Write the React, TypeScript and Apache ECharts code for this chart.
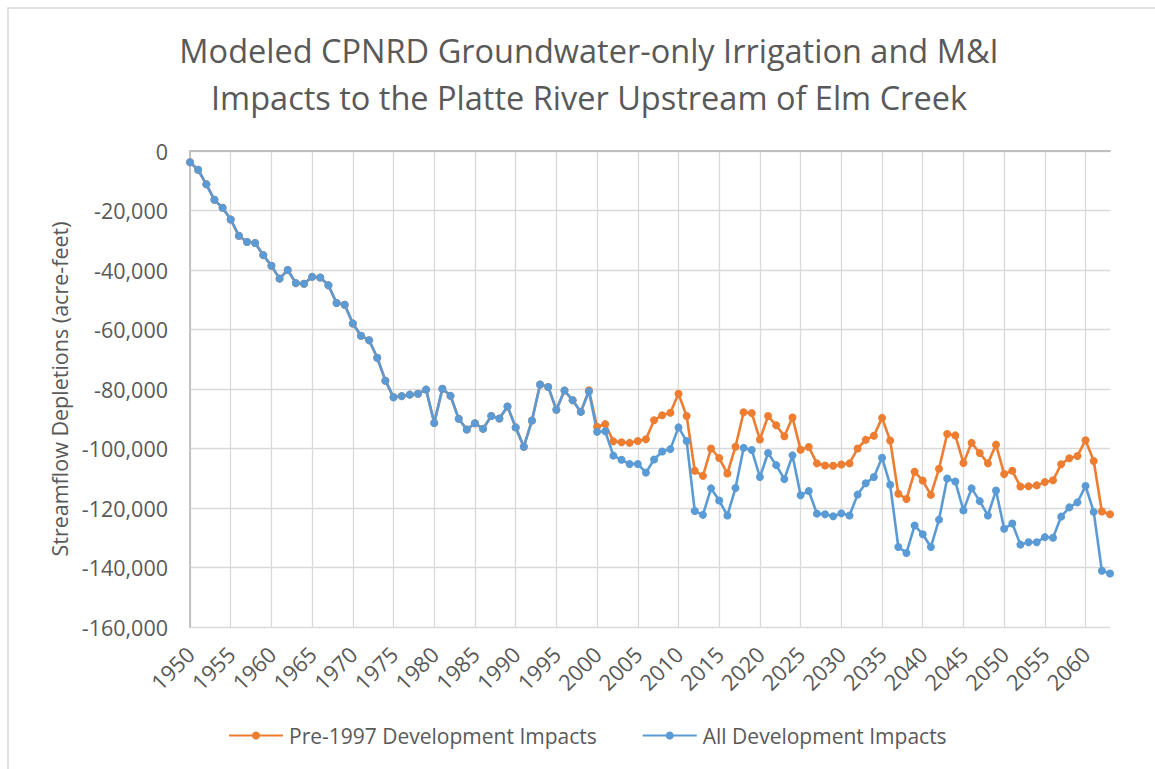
import React, { useEffect, useRef } from "react";
import * as echarts from "echarts";

const startYear = 1950;
const endYear = 2063;
const years: string[] = [];
for (let y = startYear; y <= endYear; y++) years.push(String(y));

// 1950–1998: both series coincide
const sharedEarly = [
  -3800, -6300, -11200, -16400, -19100, -23000, -28500, -30600, -30900, -35000,
  -38600, -42900, -40000, -44400, -44600, -42300, -42500, -45100, -51100, -51700,
  -58000, -62100, -63600, -69500, -77200, -82800, -82400, -81900, -81600, -80200,
  -91400, -79900, -82300, -90000, -93600, -91500, -93400, -89100, -89900, -85900,
  -92900, -99400, -90600, -78500, -79300, -87000, -80500, -83800, -87700,
];

// 1999–2063
const preDevLate = [
  -80400,
  -92700, -91800, -97600, -97900, -98100, -97500, -96900, -90500, -88800, -88000,
  -81600, -89100, -107500, -109200, -100000, -103200, -108400, -99400, -87800, -88100,
  -97000, -89100, -92200, -95900, -89600, -100400, -99500, -105000, -105700, -105800,
  -105400, -105000, -100000, -97100, -95700, -89700, -97300, -115200, -117000, -107800,
  -110800, -115600, -106800, -95100, -95600, -104900, -98100, -101500, -105000, -98700,
  -108600, -107500, -112800, -112700, -112400, -111300, -110700, -105300, -103300, -102500,
  -97200, -104200, -121200, -122100,
];

const allDevLate = [
  -80800,
  -94400, -94200, -102400, -103800, -105200, -105200, -108100, -103700, -101000, -100200,
  -92900, -97500, -121000, -122300, -113400, -117500, -122500, -113300, -99800, -100500,
  -109600, -101500, -105600, -110300, -102300, -115700, -114300, -121900, -122100, -122800,
  -121800, -122500, -115500, -111700, -109600, -103100, -112200, -133100, -135100, -125900,
  -128800, -133100, -123900, -110100, -111100, -120800, -113400, -117700, -122500, -114100,
  -127000, -125200, -132300, -131500, -131500, -129800, -130000, -122900, -119800, -118100,
  -112600, -121300, -141100, -142000,
];

const preDev = [...sharedEarly, ...preDevLate];
const allDev = [...sharedEarly, ...allDevLate];

const seriesNames = ["Pre-1997 Development Impacts", "All Development Impacts"];
const titleText =
  "Modeled CPNRD Groundwater-only Irrigation and M&I\nImpacts to the Platte River Upstream of Elm Creek";
const yAxisTitle = "Streamflow Depletions (acre-feet)";

const FONT = "'Open Sans', sans-serif";
const TXT = "#595959";

export default function App() {
  const ref = useRef<HTMLDivElement>(null);
  useEffect(() => {
    if (!ref.current) return;
    const chart = echarts.init(ref.current, null, { renderer: "svg" });
    chart.setOption({
      animation: false,
      backgroundColor: "#ffffff",
      title: {
        text: titleText,
        left: 584,
        textAlign: "center",
        top: 22,
        textStyle: {
          fontFamily: FONT,
          fontSize: 32.5,
          fontWeight: "normal",
          color: TXT,
          lineHeight: 47,
        },
      },
      legend: {
        bottom: 18,
        left: 223,
        itemGap: 45,
        itemWidth: 54,
        itemHeight: 10,
        textStyle: { fontFamily: FONT, fontSize: 21, color: TXT, padding: [0, 0, 0, 1] },
        data: seriesNames,
      },
      grid: { left: 190, right: 45, top: 151, bottom: 142, containLabel: false },
      xAxis: [
        {
          type: "category",
          data: years,
          boundaryGap: false,
          position: "bottom",
          axisLine: { show: false },
          axisTick: { show: false },
          axisLabel: {
            interval: 4,
            rotate: 45,
            margin: 23,
            fontFamily: FONT,
            fontSize: 22,
            color: TXT,
          },
          splitLine: {
            show: true,
            interval: 4,
            lineStyle: { color: "#d9d9d9", width: 1.3 },
          },
        },
        {
          type: "category",
          data: years,
          boundaryGap: false,
          position: "top",
          axisLine: { show: true, lineStyle: { color: "#bfbfbf", width: 1.8 } },
          axisTick: { show: false },
          axisLabel: { show: false },
          splitLine: { show: false },
        },
      ],
      yAxis: {
        type: "value",
        min: -160000,
        max: 0,
        interval: 20000,
        name: yAxisTitle,
        nameLocation: "middle",
        nameRotate: 90,
        nameGap: 117,
        nameTextStyle: { fontFamily: FONT, fontSize: 21.5, color: TXT },
        axisLine: { show: true, lineStyle: { color: "#bfbfbf", width: 1.8 } },
        axisTick: { show: false },
        axisLabel: {
          margin: 22,
          fontFamily: FONT,
          fontSize: 21.5,
          color: TXT,
          formatter: (v: number) => v.toLocaleString("en-US"),
        },
        splitLine: { show: true, lineStyle: { color: "#d9d9d9", width: 1.3 } },
      },
      graphic: [
        {
          type: "rect",
          shape: { x: 8, y: 8, width: 1200, height: 800 },
          style: { fill: "none", stroke: "#d9d9d9", lineWidth: 1.5 },
          silent: true,
        },
      ],
      series: [
        {
          name: seriesNames[0],
          type: "line",
          data: preDev,
          xAxisIndex: 0,
          symbol: "circle",
          symbolSize: 8,
          showAllSymbol: true,
          color: "#ED7D31",
          lineStyle: { width: 2.6, color: "#ED7D31" },
          itemStyle: { color: "#ED7D31" },
        },
        {
          name: seriesNames[1],
          type: "line",
          data: allDev,
          xAxisIndex: 0,
          symbol: "circle",
          symbolSize: 8,
          showAllSymbol: true,
          color: "#5B9BD5",
          lineStyle: { width: 2.6, color: "#5B9BD5" },
          itemStyle: { color: "#5B9BD5" },
        },
      ],
    });
    return () => chart.dispose();
  }, []);
  return (
    <div
      ref={ref}
      style={{ position: "fixed", left: 0, top: 0, width: 1155, height: 769, background: "#fff" }}
    />
  );
}
